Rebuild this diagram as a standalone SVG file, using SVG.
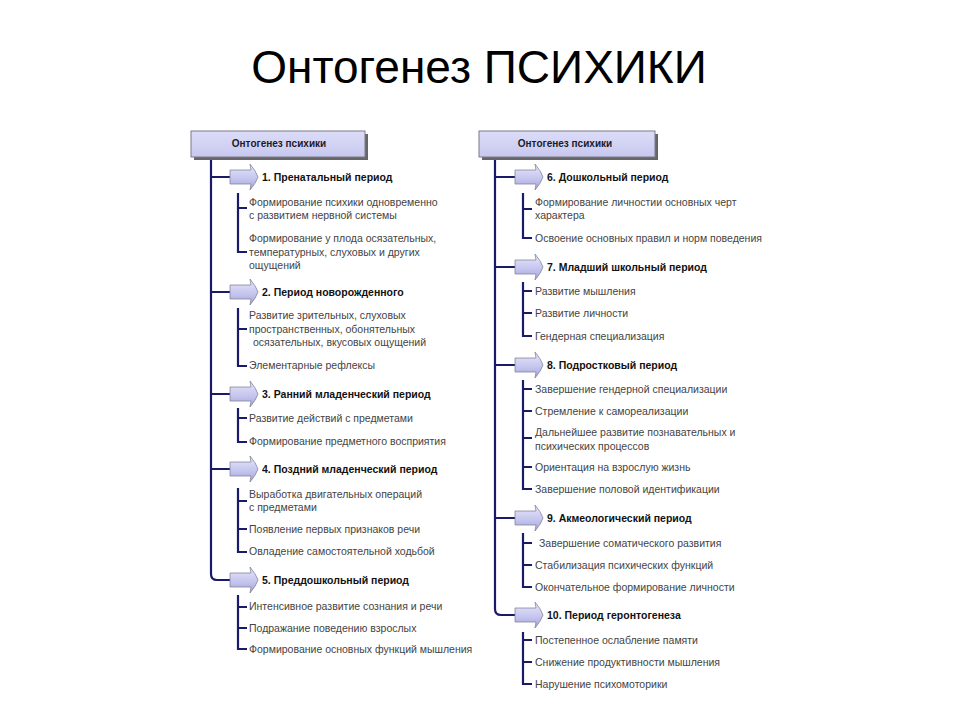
<svg xmlns="http://www.w3.org/2000/svg" width="960" height="720" viewBox="0 0 960 720">
<defs>
<linearGradient id="boxg" x1="0" y1="0" x2="0" y2="1">
<stop offset="0" stop-color="#dcdcf8"/><stop offset="1" stop-color="#c8c8f0"/>
</linearGradient>
<linearGradient id="arrg" x1="0" y1="0" x2="0" y2="1">
<stop offset="0" stop-color="#e8e8fb"/><stop offset="0.6" stop-color="#c3c3ee"/><stop offset="1" stop-color="#a2a2d8"/>
</linearGradient>
<path id="arr" d="M0,-7 H21 L20,-13 Q26,-6 28,0 Q26,6 20,13 L21,7 H0 Z" fill="url(#arrg)" stroke="#85859a" stroke-width="0.8"/>
</defs>
<style>
.title{font-family:"Liberation Sans",Arial,sans-serif;font-size:46px;fill:#000}
.hb{font-family:"Liberation Sans",Arial,sans-serif;font-size:10px;font-weight:bold;fill:#1a1a2a}
.ph{font-family:"Liberation Sans",Arial,sans-serif;font-size:10.5px;font-weight:bold;fill:#111}
.it{font-family:"Liberation Sans",Arial,sans-serif;font-size:10.5px;fill:#444}
.ln{fill:none;stroke:#1a1a6a;stroke-width:2.2}
.box{fill:url(#boxg);stroke:#7a7a8a;stroke-width:1}
.shadow{fill:#666}
</style>
<rect width="960" height="720" fill="#fff"/>
<text class="title" x="479" y="83" text-anchor="middle">Онтогенез ПСИХИКИ</text>

<g id="connectors">
<path class="ln" d="M211,157 V574 Q211,580 217,580 H230 M211,177 H230 M211,292 H230 M211,394 H230 M211,469 H230"/>
<path class="ln" d="M238,193 V252 H247 M238,208 H247"/>
<path class="ln" d="M238,308 V366 H247 M238,329 H247"/>
<path class="ln" d="M238,408 V442 H247 M238,418 H247"/>
<path class="ln" d="M238,488 V552 H247 M238,501 H247 M238,529 H247"/>
<path class="ln" d="M238,595 V649 H247 M238,607 H247 M238,628 H247"/>
<path class="ln" d="M495,157 V609 Q495,615 501,615 H515 M495,177 H515 M495,267 H515 M495,365 H515 M495,518 H515"/>
<path class="ln" d="M523,193 V238 H532 M523,209 H532"/>
<path class="ln" d="M523,282 V336 H532 M523,291 H532 M523,313 H532"/>
<path class="ln" d="M523,380 V489 H532 M523,389 H532 M523,411 H532 M523,438 H532 M523,467 H532"/>
<path class="ln" d="M523,533 V587 H532 M523,543 H532 M523,565 H532"/>
<path class="ln" d="M523,632 V684 H532 M523,640 H532 M523,662 H532"/>
</g>

<g id="root-left">
<rect class="shadow" x="194" y="134" width="174" height="26"/>
<rect class="box" x="191" y="131" width="174" height="26"/>
<text class="hb" x="279" y="147" text-anchor="middle">Онтогенез психики</text>
</g>
<g id="root-right">
<rect class="shadow" x="482" y="134" width="176" height="26"/>
<rect class="box" x="479" y="131" width="176" height="26"/>
<text class="hb" x="565" y="147" text-anchor="middle">Онтогенез психики</text>
</g>

<g id="p1">
<use href="#arr" x="230" y="177"/>
<text class="ph" x="262" y="181">1. Пренатальный период</text>
<text class="it" x="249" y="206">Формирование психики одновременно</text>
<text class="it" x="249" y="219">с развитием нервной системы</text>
<text class="it" x="249" y="242">Формирование у плода осязательных,</text>
<text class="it" x="249" y="256">температурных, слуховых и других</text>
<text class="it" x="249" y="269">ощущений</text>
</g>
<g id="p2">
<use href="#arr" x="230" y="292"/>
<text class="ph" x="262" y="296">2. Период новорожденного</text>
<text class="it" x="249" y="319">Развитие зрительных, слуховых</text>
<text class="it" x="249" y="333">пространственных, обонятельных</text>
<text class="it" x="253" y="346">осязательных, вкусовых ощущений</text>
<text class="it" x="249" y="369">Элементарные рефлексы</text>
</g>
<g id="p3">
<use href="#arr" x="230" y="394"/>
<text class="ph" x="262" y="398">3. Ранний младенческий период</text>
<text class="it" x="249" y="422">Развитие действий с предметами</text>
<text class="it" x="249" y="445">Формирование предметного восприятия</text>
</g>
<g id="p4">
<use href="#arr" x="230" y="469"/>
<text class="ph" x="262" y="473">4. Поздний младенческий период</text>
<text class="it" x="249" y="498">Выработка двигательных операций</text>
<text class="it" x="249" y="511">с предметами</text>
<text class="it" x="249" y="533">Появление первых признаков речи</text>
<text class="it" x="249" y="555">Овладение самостоятельной ходьбой</text>
</g>
<g id="p5">
<use href="#arr" x="230" y="580"/>
<text class="ph" x="262" y="584">5. Преддошкольный период</text>
<text class="it" x="249" y="610">Интенсивное развитие сознания и речи</text>
<text class="it" x="249" y="632">Подражание поведению взрослых</text>
<text class="it" x="249" y="653">Формирование основных функций мышления</text>
</g>

<g id="p6">
<use href="#arr" x="515" y="177"/>
<text class="ph" x="547" y="181">6. Дошкольный период</text>
<text class="it" x="535" y="206">Формирование личностии основных черт</text>
<text class="it" x="535" y="219">характера</text>
<text class="it" x="535" y="242">Освоение основных правил и норм поведения</text>
</g>
<g id="p7">
<use href="#arr" x="515" y="267"/>
<text class="ph" x="547" y="271">7. Младший школьный период</text>
<text class="it" x="535" y="295">Развитие мышления</text>
<text class="it" x="535" y="317">Развитие личности</text>
<text class="it" x="535" y="340">Гендерная специализация</text>
</g>
<g id="p8">
<use href="#arr" x="515" y="365"/>
<text class="ph" x="547" y="369">8. Подростковый период</text>
<text class="it" x="535" y="393">Завершение гендерной специализации</text>
<text class="it" x="535" y="415">Стремление к самореализации</text>
<text class="it" x="535" y="436">Дальнейшее развитие познавательных и</text>
<text class="it" x="535" y="450">психических процессов</text>
<text class="it" x="535" y="471">Ориентация на взрослую жизнь</text>
<text class="it" x="535" y="493">Завершение половой идентификации</text>
</g>
<g id="p9">
<use href="#arr" x="515" y="518"/>
<text class="ph" x="547" y="522">9. Акмеологический период</text>
<text class="it" x="539" y="547">Завершение соматического развития</text>
<text class="it" x="535" y="569">Стабилизация психических функций</text>
<text class="it" x="535" y="591">Окончательное формирование личности</text>
</g>
<g id="p10">
<use href="#arr" x="515" y="615"/>
<text class="ph" x="547" y="619">10. Период геронтогенеза</text>
<text class="it" x="535" y="644">Постепенное ослабление памяти</text>
<text class="it" x="535" y="666">Снижение продуктивности мышления</text>
<text class="it" x="535" y="688">Нарушение психомоторики</text>
</g>
</svg>
